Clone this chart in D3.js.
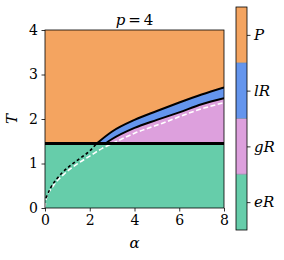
<!DOCTYPE html>
<html><head><meta charset="utf-8">
<script src="https://cdn.jsdelivr.net/npm/d3@7"></script>
<style>
body{margin:0;background:#fff;}
svg text{font-family:"DejaVu Serif","Liberation Serif",serif !important;fill:#000;}
</style></head>
<body><svg id="c" width="284" height="260"></svg>
<script>
// ---- data ----
const alphaTicks = [0, 2, 4, 6, 8];
const tempTicks = [0, 1, 2, 3, 4];
const phaseLabels = ["eR", "gR", "lR", "P"];
const phaseColors = ["#66cdaa", "#dda0dd", "#6495ed", "#f4a460"];
const Tc = 1.45;                                   // horizontal transition line
const upperAlpha = [2.31, 3, 4, 5, 6, 7, 8];        // P / lR boundary
const upperT     = [1.45, 1.72, 1.98, 2.18, 2.37, 2.55, 2.71];
const lowerAlpha = [2.7, 3, 4, 5, 6, 7, 8];         // lR / gR boundary
const lowerT     = [1.45, 1.55, 1.80, 1.98, 2.15, 2.33, 2.465];
const whiteAlpha = [0, 0.05, 0.33, 0.85, 1.44, 2.04, 2.56, 2.93, 4, 5.22, 6.7, 8];
const whiteT     = [0, 0.2, 0.47, 0.76, 0.99, 1.18, 1.34, 1.43, 1.68, 1.9, 2.18, 2.37];
const blackAlpha = [0.04, 0.25, 0.55, 1.0, 1.52, 2.04, 2.31];
const blackT     = [0.22, 0.45, 0.67, 0.9, 1.1, 1.3, 1.45];

// ---- layout ----
const svg = d3.select("#c");
const L = 45, R = 224, Tp = 30, B = 208;
const x = d3.scaleLinear().domain([0, 8]).range([L, R]);
const y = d3.scaleLinear().domain([0, 4]).range([B, Tp]);

svg.append("defs").append("clipPath").attr("id", "clip")
  .append("rect").attr("x", L).attr("y", Tp).attr("width", R - L).attr("height", B - Tp);
const g = svg.append("g").attr("clip-path", "url(#clip)");

// regions
g.append("rect").attr("x", L).attr("y", Tp).attr("width", R - L).attr("height", B - Tp).attr("fill", phaseColors[3]);
g.append("rect").attr("x", L).attr("y", y(Tc)).attr("width", R - L).attr("height", B - y(Tc)).attr("fill", phaseColors[0]);
const zipPts = (a, t) => a.map((v, i) => [v, t[i]]);
const area = d3.area().x(d => x(d[0])).y0(y(Tc)).y1(d => y(d[1])).curve(d3.curveMonotoneX);
g.append("path").attr("d", area(zipPts(upperAlpha, upperT))).attr("fill", phaseColors[2]);
g.append("path").attr("d", area(zipPts(lowerAlpha, lowerT))).attr("fill", phaseColors[1]);

const line = d3.line().x(d => x(d[0])).y(d => y(d[1])).curve(d3.curveMonotoneX);
// dashed lines
g.append("path").attr("d", line(zipPts(whiteAlpha, whiteT))).attr("fill", "none")
  .attr("stroke", "#fff").attr("stroke-width", 1.6).attr("stroke-dasharray", "5,2.5");
g.append("path").attr("d", line(zipPts(blackAlpha, blackT))).attr("fill", "none")
  .attr("stroke", "#000").attr("stroke-width", 1.6).attr("stroke-dasharray", "3,2.5");
// solid lines
g.append("path").attr("d", line(zipPts(upperAlpha, upperT))).attr("fill", "none")
  .attr("stroke", "#000").attr("stroke-width", 2);
g.append("path").attr("d", line(zipPts(lowerAlpha, lowerT))).attr("fill", "none")
  .attr("stroke", "#000").attr("stroke-width", 2);
g.append("line").attr("x1", x(0)).attr("x2", x(8)).attr("y1", y(Tc)).attr("y2", y(Tc))
  .attr("stroke", "#000").attr("stroke-width", 2.8);

// frame
svg.append("rect").attr("x", L).attr("y", Tp).attr("width", R - L).attr("height", B - Tp)
  .attr("fill", "none").attr("stroke", "#000").attr("stroke-width", 0.8);

// axes
const xa = svg.append("g").attr("transform", `translate(0,${B})`)
  .call(d3.axisBottom(x).tickValues(alphaTicks).tickSize(3.5).tickPadding(3.5).tickFormat(d3.format("d")));
const ya = svg.append("g").attr("transform", `translate(${L},0)`)
  .call(d3.axisLeft(y).tickValues(tempTicks).tickSize(3.5).tickPadding(3.5).tickFormat(d3.format("d")));
[xa, ya].forEach(a => {
  a.attr("font-family", null).attr("font-size", null);
  a.select(".domain").remove();
  a.selectAll(".tick line").attr("stroke", "#000").attr("stroke-width", 0.8);
  a.selectAll(".tick text").attr("font-size", 14).attr("fill", "#000");
});

// labels
svg.append("text").attr("x", (L + R) / 2).attr("y", 248).attr("text-anchor", "middle")
  .attr("font-size", 15).attr("font-style", "italic").text("α");
svg.append("text").attr("transform", `translate(17,${(Tp + B) / 2}) rotate(-90)`).attr("text-anchor", "middle")
  .attr("font-size", 15).attr("font-style", "italic").text("T");
const title = svg.append("text").attr("x", (L + R) / 2).attr("y", 25).attr("text-anchor", "middle").attr("font-size", 15);
title.append("tspan").attr("font-style", "italic").text("p");
title.append("tspan").text("\u2009=\u20094");

// colorbar
const cbL = 236, cbW = 11, cbT = 7, cbB = 230;
const cy = d3.scaleLinear().domain([0, phaseLabels.length]).range([cbB, cbT]);
svg.append("g").selectAll("rect").data(phaseLabels).join("rect")
  .attr("x", cbL).attr("width", cbW)
  .attr("y", (d, i) => cy(i + 1)).attr("height", (d, i) => cy(i) - cy(i + 1))
  .attr("fill", (d, i) => phaseColors[i]);
svg.append("g").selectAll("line").data(d3.range(1, phaseLabels.length)).join("line")
  .attr("x1", cbL).attr("x2", cbL + cbW).attr("y1", d => cy(d)).attr("y2", d => cy(d))
  .attr("stroke", "#708090").attr("stroke-width", 0.8).attr("opacity", 0.7);
svg.append("rect").attr("x", cbL).attr("y", cbT).attr("width", cbW).attr("height", cbB - cbT)
  .attr("fill", "none").attr("stroke", "#000").attr("stroke-width", 0.8);
const ca = svg.append("g").attr("transform", `translate(${cbL + cbW},0)`)
  .call(d3.axisRight(cy).tickValues(phaseLabels.map((d, i) => i + 0.5)).tickSize(3.5).tickPadding(3.5)
    .tickFormat((d, i) => phaseLabels[i]));
ca.attr("font-family", null).attr("font-size", null);
ca.select(".domain").remove();
ca.selectAll(".tick line").attr("stroke", "#000").attr("stroke-width", 0.8);
ca.selectAll(".tick text").attr("font-size", 15).attr("font-style", "italic").attr("fill", "#000");
</script></body></html>
